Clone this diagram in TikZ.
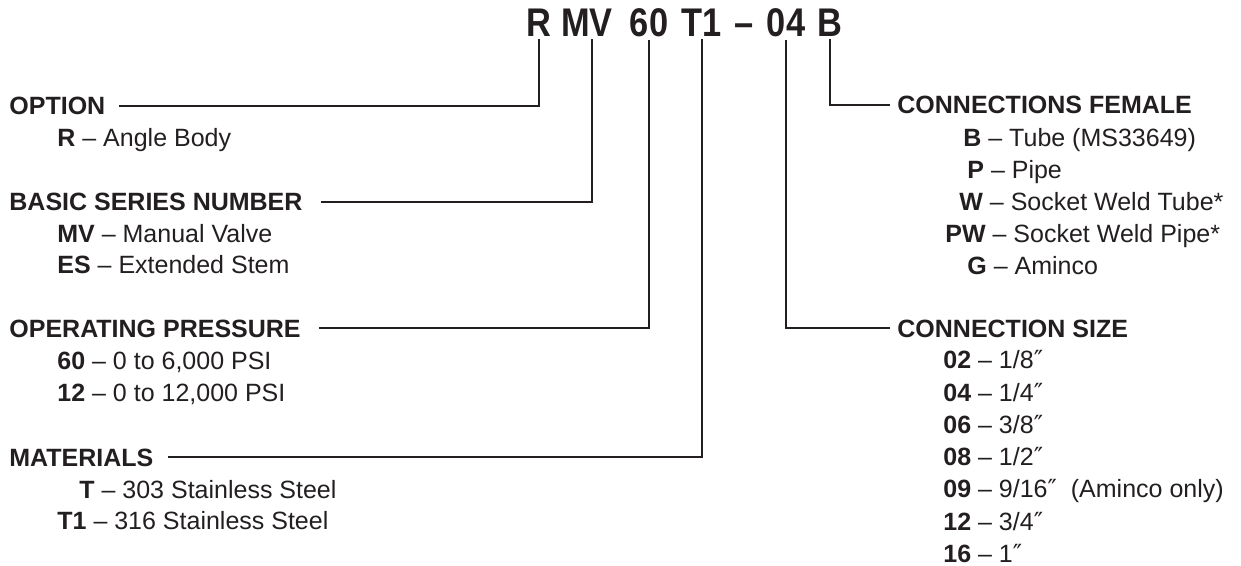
\documentclass[tikz,border=0pt]{standalone}
\usepackage{fontspec}
\setmainfont{Liberation Sans}
\newfontfamily\titlefont[FakeStretch=0.86]{Liberation Sans}
\newfontfamily\dvsans{DejaVu Sans}
\definecolor{ink}{HTML}{231F20}
\newcommand{\inch}{{\dvsans ″}}

\begin{document}
\begin{tikzpicture}[x=0.5pt,y=-0.5pt,color=ink,font=\fontsize{12.5}{15}\selectfont,
  cd/.style={anchor=base,inner sep=1pt,font=\titlefont\bfseries\fontsize{20}{20}\selectfont},
  hd/.style={anchor=base west,inner sep=0pt,font=\fontsize{12.5}{15}\selectfont\bfseries},
  it/.style={anchor=base west,inner sep=0pt},
  ln/.style={draw=ink,line width=1pt}]
  \useasboundingbox (0,0) rectangle (1241,566);
  % model code
  \node[cd] (r) at (539,37) {R};
  \node[cd] (mv) at (587,37) {MV};
  \node[cd] (p60) at (649,37) {60};
  \node[cd] (t1) at (702,37) {T1};
  \node[cd] (dash) at (744,37) {–};
  \node[cd] (c04) at (786,37) {04};
  \node[cd] (b) at (830,37) {B};
  % left column
  \node[hd] (opt) at (9,115) {OPTION};
  \node[it] (opt1) at (57,147) {\textbf{R} – Angle Body};
  \node[hd] (bsn) at (9,211) {BASIC SERIES NUMBER};
  \node[it] (bsn1) at (57,243) {\textbf{MV} – Manual Valve};
  \node[it] (bsn2) at (57,274) {\textbf{ES} – Extended Stem};
  \node[hd] (opp) at (9,337) {OPERATING PRESSURE};
  \node[it] (opp1) at (57,370) {\textbf{60} – 0 to 6,000 PSI};
  \node[it] (opp2) at (57,401) {\textbf{12} – 0 to 12,000 PSI};
  \node[hd] (mat) at (9,466) {MATERIALS};
  \node[it] (mat1) at (79,498) {\textbf{T} – 303 Stainless Steel};
  \node[it] (mat2) at (57,529) {\textbf{T1} – 316 Stainless Steel};
  % right column
  \node[hd] (cnf) at (897,114) {CONNECTIONS FEMALE};
  \node[it] (cnf1) at (963,147) {\textbf{B} – Tube (MS33649)};
  \node[it] (cnf2) at (967,179) {\textbf{P} – Pipe};
  \node[it] (cnf3) at (959,211) {\textbf{W} – Socket Weld Tube*};
  \node[it] (cnf4) at (945,243) {\textbf{PW} – Socket Weld Pipe*};
  \node[it] (cnf5) at (967,275) {\textbf{G} – Aminco};
  \node[hd] (cns) at (897,337) {CONNECTION SIZE};
  \node[it] (cns1) at (943,369) {\textbf{02} – 1/8\inch};
  \node[it] (cns2) at (943,401) {\textbf{04} – 1/4\inch};
  \node[it] (cns3) at (943,433) {\textbf{06} – 3/8\inch};
  \node[it] (cns4) at (943,465) {\textbf{08} – 1/2\inch};
  \node[it] (cns5) at (943,497) {\textbf{09} – 9/16\inch~~(Aminco only)};
  \node[it] (cns6) at (943,530) {\textbf{12} – 3/4\inch};
  \node[it] (cns7) at (943,562) {\textbf{16} – 1\inch};
  % leaders
  \draw[ln] ([xshift=6.5pt]opt.east) -| (r.south);
  \draw[ln] ([xshift=9pt]bsn.east) -| ([xshift=2.5pt]mv.south);
  \draw[ln] ([xshift=9pt]opp.east) -| (p60.south);
  \draw[ln] ([xshift=7pt]mat.east) -| (t1.south);
  \draw[ln] (b.south) |- ([xshift=-3.5pt]cnf.west);
  \draw[ln] (c04.south) |- ([xshift=-3.5pt]cns.west);
\end{tikzpicture}
\end{document}
